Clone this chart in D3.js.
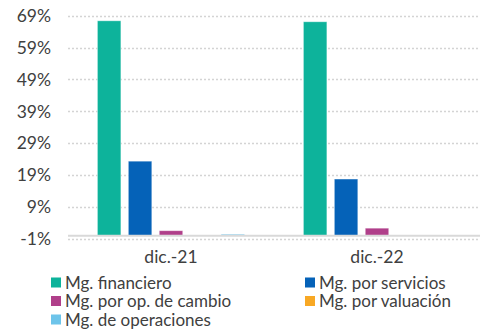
<!DOCTYPE html>
<html>
<head>
<meta charset="utf-8">
<script src="https://cdn.jsdelivr.net/npm/d3@7"></script>
<style>
  html, body { margin: 0; padding: 0; background: #fff; }
  svg { display: block; font-family: Lato, "Open Sans", sans-serif; }
</style>
</head>
<body>
<svg id="chart" width="484" height="333"></svg>
<script>
// Periods and series (percent of total)
const periods = ["dic.-21", "dic.-22"];
const seriesNames = [
  "Mg. financiero",
  "Mg. por servicios",
  "Mg. por op. de cambio",
  "Mg. por valuación",
  "Mg. de operaciones"
];
const seriesColors = ["#0db39b", "#0562b8", "#b03f8a", "#f8a824", "#6dc4ea"];
const finValues = [67.4, 67.1];
const servValues = [23.4, 17.8];
const cambioValues = [1.6, 2.4];
const valuacionValues = [0.0, 0.1];
const operValues = [0.5, 0.0];
const yTicks = [-1, 9, 19, 29, 39, 49, 59, 69];

const values = [finValues, servValues, cambioValues, valuacionValues, operValues];

const svg = d3.select("#chart");
const margin = { left: 68, right: 4, top: 15.7, bottom: 94 };
const W = 484, H = 333;
const textColor = "#404040";
const fontSize = "17.5px";
const legendFontSize = "17px";

const x0 = d3.scaleBand().domain(periods).range([margin.left, W - margin.right]).paddingInner(0).paddingOuter(0);
const x1 = d3.scaleBand().domain(seriesNames).range([0, x0.bandwidth()]).paddingInner(0.24).paddingOuter(0.95);
const y = d3.scaleLinear().domain([-1, 69]).range([239, margin.top]);

// Dotted gridlines
svg.append("g")
  .selectAll("line")
  .data(yTicks)
  .join("line")
  .attr("x1", margin.left)
  .attr("x2", W - margin.right - 2)
  .attr("y1", d => Math.round(y(d)) + 0.5)
  .attr("y2", d => Math.round(y(d)) + 0.5)
  .attr("stroke", "#d4d4d4")
  .attr("stroke-width", 1.3)
  .attr("stroke-dasharray", "2,2");

// Y axis labels
const yAxis = d3.axisLeft(y).tickValues(yTicks).tickSize(0).tickPadding(0).tickFormat(d => d + "%");
const gy = svg.append("g").attr("transform", `translate(${51},0)`).call(yAxis);
gy.select(".domain").remove();
gy.selectAll("text")
  .attr("fill", textColor)
  .style("font-size", fontSize)
  .style("font-family", "Lato, sans-serif");

// Bars
const groups = svg.append("g")
  .selectAll("g")
  .data(periods)
  .join("g")
  .attr("transform", d => `translate(${x0(d)},0)`);

groups.selectAll("rect")
  .data((p, i) => seriesNames.map((s, j) => ({ s, v: values[j][i], c: seriesColors[j] })))
  .join("rect")
  .attr("x", d => x1(d.s))
  .attr("width", x1.bandwidth())
  .attr("y", d => Math.min(y(d.v), y(0)))
  .attr("height", d => Math.abs(y(0) - y(d.v)))
  .attr("fill", d => d.c)
  .attr("stroke", "#ffffff")
  .attr("stroke-opacity", 0.5)
  .attr("stroke-width", 0.8);

// Zero baseline
svg.append("line")
  .attr("x1", margin.left)
  .attr("x2", W - margin.right)
  .attr("y1", y(0))
  .attr("y2", y(0))
  .attr("stroke", "#d9d9d9")
  .attr("stroke-width", 2);

// Period labels
const xAxis = d3.axisBottom(x0).tickSize(0).tickPadding(0);
const gx = svg.append("g").attr("transform", `translate(0,${251})`).call(xAxis);
gx.select(".domain").remove();
gx.selectAll("text")
  .attr("fill", textColor)
  .style("font-size", fontSize)
  .style("font-family", "Lato, sans-serif");

// Legend
const legendPos = [
  [51, 283], [305, 283],
  [51, 301.5], [305, 301.5],
  [51, 320]
];
const legend = svg.append("g")
  .selectAll("g")
  .data(seriesNames)
  .join("g")
  .attr("transform", (d, i) => `translate(${legendPos[i][0]},${legendPos[i][1]})`);
legend.append("rect")
  .attr("x", 0).attr("y", -5.5)
  .attr("width", 10).attr("height", 10)
  .attr("fill", (d, i) => seriesColors[i]);
legend.append("text")
  .attr("x", 14)
  .attr("y", 0)
  .attr("dy", "0.35em")
  .attr("fill", textColor)
  .style("font-size", legendFontSize)
  .text(d => d);
</script>
</body>
</html>
